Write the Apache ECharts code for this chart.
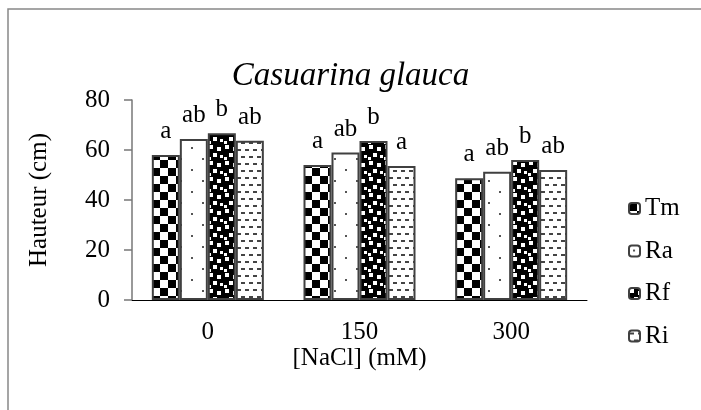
<!DOCTYPE html>
<html><head><meta charset="utf-8">
<script src="https://cdn.jsdelivr.net/npm/echarts@6/dist/echarts.min.js"></script>
<style>html,body{margin:0;padding:0;background:#fff}#c{width:701px;height:410px}</style>
</head><body><div id="c"></div>
<script>
var categories = ['0', '150', '300'];
var seriesNames = ['Tm', 'Ra', 'Rf', 'Ri'];
var valuesTm = [58, 54, 48.7];
var valuesRa = [64.4, 59, 51.3];
var valuesRf = [66.7, 63.6, 56];
var valuesRi = [63.7, 53.6, 52];
var lettersTm = ['a', 'a', 'a'];
var lettersRa = ['ab', 'ab', 'ab'];
var lettersRf = ['b', 'b', 'b'];
var lettersRi = ['ab', 'a', 'ab'];
var yTicks = [0, 20, 40, 60, 80];

function mk(w, h, draw) {
  var c = document.createElement('canvas'); c.width = w; c.height = h;
  var g = c.getContext('2d'); draw(g); return c;
}
var patTm = mk(16, 16, function (g) {
  g.fillStyle = '#fff'; g.fillRect(0, 0, 16, 16);
  g.fillStyle = '#000'; g.fillRect(0, 0, 8, 8); g.fillRect(8, 8, 8, 8);
});
var patRa = mk(22, 22, function (g) {
  g.fillStyle = '#fff'; g.fillRect(0, 0, 22, 22);
  g.fillStyle = '#555'; g.fillRect(4, 4, 2, 2); g.fillRect(15, 15, 2, 2);
});
var patRf = mk(16, 16, function (g) {
  g.fillStyle = '#000'; g.fillRect(0, 0, 16, 16);
  g.fillStyle = '#fff';
  g.fillRect(1, 1, 4, 4); g.fillRect(9, 3, 4, 4); g.fillRect(5, 9, 4, 4); g.fillRect(12, 11, 3, 3); g.fillRect(0, 13, 3, 3);
});
var patRi = mk(8, 14, function (g) {
  g.fillStyle = '#fff'; g.fillRect(0, 0, 8, 14);
  g.fillStyle = '#444'; g.fillRect(1, 2, 4, 2); g.fillRect(5, 9, 3, 2); g.fillRect(0, 9, 1, 2);
});
var pats = [patTm, patRa, patRf, patRi];
var vals = [valuesTm, valuesRa, valuesRf, valuesRi];
var lets = [lettersTm, lettersRa, lettersRf, lettersRi];

var font = 'Liberation Serif';
var chart = echarts.init(document.getElementById('c'), null, {renderer: 'canvas'});
chart.setOption({
  animation: false,
  textStyle: {fontFamily: font, color: '#000'},
  title: {text: 'Casuarina glauca', left: 'center', top: 55,
    textStyle: {fontFamily: font, fontStyle: 'italic', fontWeight: 'normal', fontSize: 33, color: '#000'}},
  graphic: [{type: 'rect', shape: {x: 8, y: 9, width: 800, height: 600},
    style: {fill: 'none', stroke: '#888', lineWidth: 1.5}, silent: true, z: -1}],
  legend: {orient: 'vertical', left: 623, top: 191, itemWidth: 11, itemHeight: 11, itemGap: 17.5,
    data: seriesNames,
    textStyle: {fontFamily: font, fontSize: 25, color: '#000'}},
  grid: {left: 132, right: 114, top: 100, bottom: 110, containLabel: false},
  xAxis: {type: 'category', data: categories,
    name: '[NaCl] (mM)', nameLocation: 'middle', nameGap: 42,
    nameTextStyle: {fontFamily: font, fontSize: 25, color: '#000'},
    axisLine: {lineStyle: {color: '#000', width: 1}},
    axisTick: {show: false},
    axisLabel: {fontFamily: font, fontSize: 25, color: '#000', margin: 20}},
  yAxis: {type: 'value', min: 0, max: 80, interval: 20,
    name: 'Hauteur (cm)', nameLocation: 'middle', nameGap: 80,
    nameTextStyle: {fontFamily: font, fontSize: 25, color: '#000'},
    axisLine: {show: true, lineStyle: {color: '#777', width: 1.5}},
    axisTick: {show: true, length: 8, lineStyle: {color: '#777', width: 1.5}},
    splitLine: {show: false},
    axisLabel: {fontFamily: font, fontSize: 25, color: '#000', margin: 22,
      formatter: function (v) { return yTicks.indexOf(v) >= 0 ? String(v) : ''; }}},
  series: seriesNames.map(function (n, i) {
    return {
      name: n, type: 'bar', barWidth: 28, barGap: '0%',
      data: vals[i],
      itemStyle: {color: {image: pats[i], repeat: 'repeat'}, borderColor: '#404040', borderWidth: 2},
      label: {show: true, position: 'top', distance: 11, fontFamily: font, fontSize: 25, color: '#000',
        formatter: function (p) { return lets[i][p.dataIndex]; }}
    };
  })
});
</script></body></html>
